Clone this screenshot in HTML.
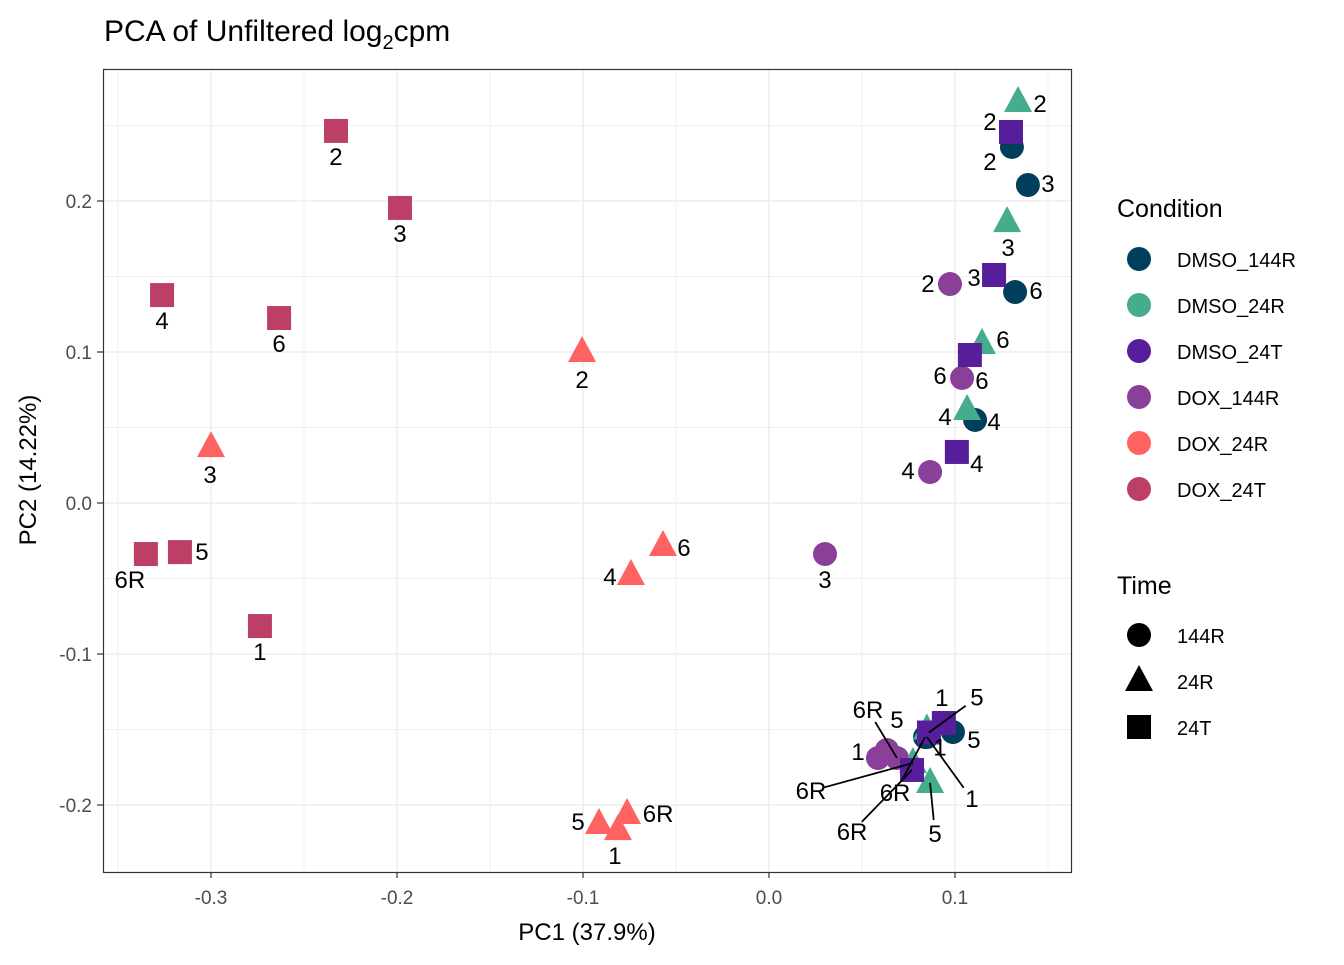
<!DOCTYPE html>
<html><head><meta charset="utf-8"><style>
body{margin:0;background:#fff;}
svg text{font-family:"Liberation Sans",Arial,sans-serif;}
</style></head><body>
<svg id="chart" width="1344" height="960" xmlns="http://www.w3.org/2000/svg">
<text x="104" y="41" font-size="30" fill="#000">PCA of Unfiltered log<tspan font-size="20" dy="8">2</tspan><tspan dy="-8">cpm</tspan></text>
<g id="grid"></g>
<g id="marks"></g>
<rect x="103.5" y="69.5" width="968" height="803" fill="none" stroke="#333" stroke-width="1.2"/>
<g id="axes"></g>
<text x="587" y="940" font-size="24" text-anchor="middle">PC1 (37.9%)</text>
<text transform="translate(36,470) rotate(-90)" font-size="24" text-anchor="middle">PC2 (14.22%)</text>
<g id="legend"></g>
</svg>
<script>
const conditions=["DMSO_144R","DMSO_24R","DMSO_24T","DOX_144R","DOX_24R","DOX_24T"];
const colors=["#003F5C","#45AC8E","#561E9B","#8A3F99","#FF6361","#BC3F66"];
const times=["144R","24R","24T"];
const condShape=[0,1,2,0,1,2];
const xTicks=[-0.3,-0.2,-0.1,0.0,0.1];
const xTickLabels=["-0.3","-0.2","-0.1","0.0","0.1"];
const yTicks=[-0.2,-0.1,0.0,0.1,0.2];
const yTickLabels=["-0.2","-0.1","0.0","0.1","0.2"];
// per-sample values
const ptCond=[5,5,5,5,5,5,5, 4,4,4,4,4,4,4, 3,3,3,3,3,3,3, 0,0,0,0,0,0,0, 1,1,1,1,1,1,1, 2,2,2,2,2,2,2];
const ptLabel=["2","3","4","6","6R","5","1", "2","3","4","6","5","1","6R", "2","6","4","3","1","5","6R", "2","3","6","4","1","5","6R", "2","3","6","4","5","1","6R", "2","3","6","4","1","5","6R"];
const pc1=[-0.2328,-0.1984,-0.3263,-0.2634,-0.335,-0.3167,-0.2737,
 -0.1005,-0.300,-0.0742,-0.057,-0.0914,-0.0812,-0.0763,
 0.0973,0.1038,0.0866,0.0301,0.0586,0.0634,0.0688,
 0.1306,0.1392,0.1323,0.1108,0.0849,0.0989,0.0839,
 0.1339,0.128,0.1145,0.1065,0.0866,0.0849,0.0774,
 0.1301,0.121,0.108,0.101,0.094,0.086,0.0769];
const pc2=[0.2464,0.1954,0.1377,0.1225,-0.0338,-0.0325,-0.0815,
 0.100,0.037,-0.0477,-0.0285,-0.2126,-0.2166,-0.206,
 0.145,0.0828,0.0205,-0.0338,-0.1689,-0.1636,-0.1689,
 0.2358,0.2106,0.1397,0.055,-0.155,-0.1517,-0.155,
 0.2656,0.186,0.1053,0.0616,-0.1854,-0.150,-0.1722,
 0.2457,0.151,0.098,0.0338,-0.1457,-0.152,-0.1768];
// label placement offsets (layout, px)
const labDx=[0,0,0,0,-16,22,0, 0,-1,-21,21,-21,-3,31, -22,-22,-22,0,-20,10,-29, -22,20,21,19,45,21,-30, 22,1,21,-22,5,13,-102, -21,-20,12,20,-2,48,-60];
const labDy=[26,26,26,26,26,0,26, 28,28,2,2,-2,26,0, 0,-2,-1,26,-6,-30,-48, 15,-1,-1,2,62,8,56, 2,26,-4,7,51,18,28, -10,3,26,12,-25,-35,62];

const X=v=>769+1860*v, Y=v=>503-1510*v;
const NS="http://www.w3.org/2000/svg";
function mk(tag,attrs,parent){const e=document.createElementNS(NS,tag);for(const k in attrs)e.setAttribute(k,attrs[k]);parent.appendChild(e);return e;}
const grid=document.getElementById('grid'),axes=document.getElementById('axes'),marks=document.getElementById('marks'),legend=document.getElementById('legend');
for(let v=-0.35;v<=0.151;v+=0.05){const px=X(v);if(px<104||px>1071)continue;const major=Math.abs(Math.round(v*10)-v*10)<1e-6;
 const l=mk('line',{x1:px,x2:px,y1:70,y2:872,stroke:'#ebebeb','stroke-width':major?1.3:0.7},grid);
 }
for(let v=-0.25;v<=0.3;v+=0.05){const py=Y(v);if(py<70||py>872)continue;const major=Math.abs(Math.round(v*10)-v*10)<1e-6;
 const l=mk('line',{x1:104,x2:1071,y1:py,y2:py,stroke:'#ebebeb','stroke-width':major?1.3:0.7},grid);
 }
xTicks.forEach((v,i)=>{const px=X(v);
 const t=mk('line',{x1:px,x2:px,y1:872,y2:878,stroke:'#333','stroke-width':1.2},axes);
 
 const tx=mk('text',{x:px,y:904,'font-size':19,fill:'#4d4d4d','text-anchor':'middle'},axes);tx.textContent=xTickLabels[i];
 });
yTicks.forEach((v,i)=>{const py=Y(v);
 const t=mk('line',{x1:97,x2:103,y1:py,y2:py,stroke:'#333','stroke-width':1.2},axes);
 
 const tx=mk('text',{x:92,y:py+7,'font-size':19,fill:'#4d4d4d','text-anchor':'end'},axes);tx.textContent=yTickLabels[i];
 });
function shape(s,cx,cy,col,par,sc){sc=sc||1;
 if(s===0)return mk('circle',{cx:cx,cy:cy,r:12*sc,fill:col},par);
 if(s===1){const h=14*sc;return mk('polygon',{points:`${cx},${cy-h-2} ${cx-h},${cy+h-4} ${cx+h},${cy+h-4}`,fill:col},par);}
 return mk('rect',{x:cx-12*sc,y:cy-12*sc,width:24*sc,height:24*sc,fill:col},par);}
const labG=mk('g',{},marks);
for(let i=0;i<pc1.length;i++){const c=ptCond[i],cx=X(pc1[i]),cy=Y(pc2[i]);
 const m=shape(condShape[c],cx,cy,colors[c],marks);
 
 
 const lx=cx+labDx[i],ly=cy+labDy[i];const d=Math.hypot(labDx[i],labDy[i]);
 if(d>34){const f=(d-14)/d;
  const sg=mk('line',{x1:cx,y1:cy,x2:cx+labDx[i]*f,y2:cy+labDy[i]*f,stroke:'#000','stroke-width':1.8},labG);
  }
 const t=mk('text',{x:lx,y:ly+8,'font-size':24,'text-anchor':'middle',fill:'#000'},labG);t.textContent=ptLabel[i];
 }
marks.appendChild(labG);
let t=mk('text',{x:1117,y:217,'font-size':25},legend);t.textContent='Condition';

conditions.forEach((c,i)=>{const y=259+46*i;
 const m=mk('circle',{cx:1139,cy:y,r:12,fill:colors[i]},legend);
 
 const tx=mk('text',{x:1177,y:y+8,'font-size':20},legend);tx.textContent=c;
 });
t=mk('text',{x:1117,y:594,'font-size':25},legend);t.textContent='Time';

times.forEach((c,i)=>{const y=635+46*i;
 const m=shape(i,1139,y,'#000',legend);
 
 const tx=mk('text',{x:1177,y:y+8,'font-size':20},legend);tx.textContent=c;
 });
</script>
</body></html>
